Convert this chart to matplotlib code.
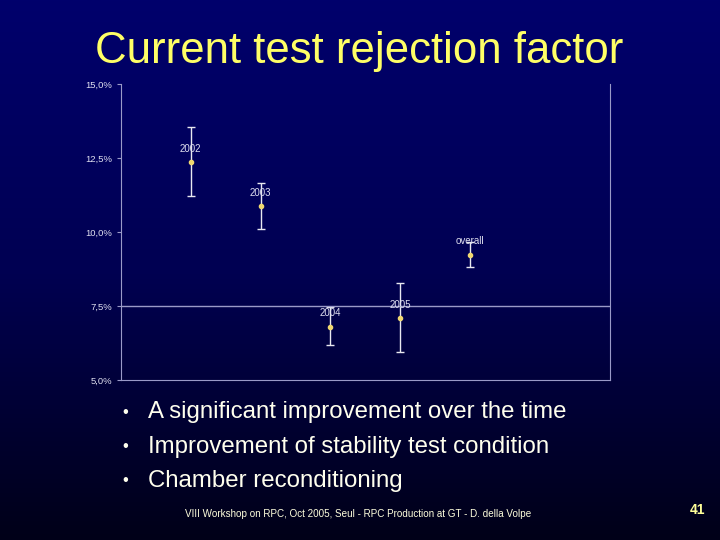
import numpy as np
from matplotlib import pyplot as plt
from matplotlib.colors import LinearSegmentedColormap

# Dati del grafico
etichette = ['2002', '2003', '2004', '2005', 'overall']
valori = [12.36, 10.88, 6.80, 7.08, 9.24]
err_basso = [1.14, 0.79, 0.63, 1.15, 0.42]
err_alto = [1.19, 0.78, 0.68, 1.19, 0.42]
tick_y = [5.0, 7.5, 10.0, 12.5, 15.0]
tick_lab = ['5,0%', '7,5%', '10,0%', '12,5%', '15,0%']
punti = ['A significant improvement over the time',
         'Improvement of stability test condition',
         'Chamber reconditioning']

plt.rcParams['font.family'] = ['Liberation Sans', 'DejaVu Sans']

fig = plt.figure(figsize=(7.2, 5.4), dpi=100)

# Sfondo sfumato
bg = fig.add_axes([0, 0, 1, 1])
grad = np.linspace(0, 1, 256).reshape(-1, 1)
cmap = LinearSegmentedColormap.from_list('slide', ['#00006c', '#000052', '#000018'])
bg.imshow(grad, aspect='auto', cmap=cmap, extent=[0, 1, 0, 1], origin='upper')
bg.set_xlim(0, 1)
bg.set_ylim(0, 1)
bg.axis('off')

# Grafico
ax = fig.add_axes([0.168, 0.2963, 0.679, 0.5481])
ax.patch.set_alpha(0)
x = np.arange(1, len(valori) + 1)
ax.errorbar(x, valori, yerr=[err_basso, err_alto], fmt='o', color='#f0d870',
            ms=3, ecolor='#e8e8f0', elinewidth=1, capsize=2.7, capthick=1)
for xi, v, t in zip(x, valori, etichette):
    ax.annotate(t, (xi, v), xytext=(0, 6), textcoords='offset points',
                ha='center', va='bottom', fontsize=7, color='#e0e0f0')
ax.axhline(7.5, color='#9a9ac8', lw=1)
ax.set_xlim(0, 7)
ax.set_ylim(5, 15)
ax.set_yticks(tick_y)
ax.set_yticklabels(tick_lab)
ax.set_xticks([])
ax.tick_params(axis='y', length=3, colors='#9a9ac8', labelcolor='#e0e0f0', labelsize=6.8)
ax.spines['top'].set_visible(False)
for s in ['left', 'right', 'bottom']:
    ax.spines[s].set_color('#9a9ac8')

# Titolo
fig.text(0.499, 1 - 52 / 540, 'Current test rejection factor', ha='center', va='center',
         fontsize=31.5, color='#ffff66')

# Punti elenco
for i, p in enumerate(punti):
    y = 1 - (412 + 34.5 * i) / 540
    fig.text(125 / 720, y, '•', ha='center', va='center', fontsize=12, color='#ffffee')
    fig.text(148 / 720, y, p, ha='left', va='center', fontsize=17.3, color='#ffffee')

# Piè di pagina
fig.text(185 / 720, 1 - 514 / 540,
         'VIII Workshop on RPC, Oct 2005, Seul - RPC Production at GT - D. della Volpe',
         ha='left', va='center', fontsize=7.1, color='#ffffdd')
fig.text(697 / 720, 1 - 510 / 540, '41', ha='center', va='center',
         fontsize=10, fontweight='bold', color='#ffff99')

fig.savefig('out.png', dpi=100)
